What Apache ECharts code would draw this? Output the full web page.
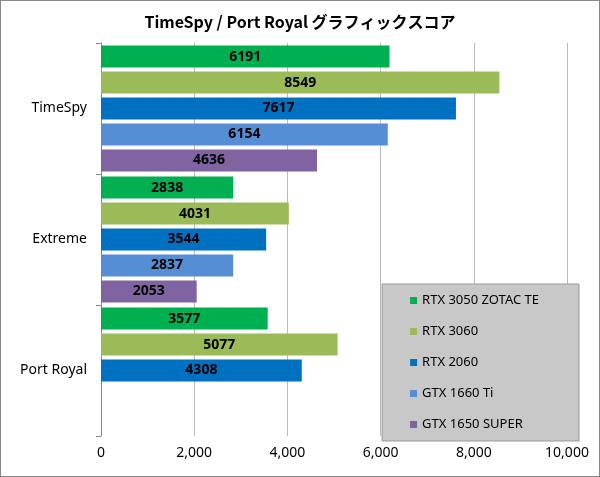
<!DOCTYPE html>
<html><head><meta charset="utf-8">
<script src="https://cdn.jsdelivr.net/npm/echarts@6/dist/echarts.min.js"></script>
<style>html,body{margin:0;padding:0;background:#fff}#c{width:600px;height:477px;box-sizing:border-box;border:1px solid #888}</style>
</head><body><div id="c"></div>
<script>
const categories = ['TimeSpy', 'Extreme', 'Port Royal'];
const seriesNames = ['RTX 3050 ZOTAC TE', 'RTX 3060', 'RTX 2060', 'GTX 1660 Ti', 'GTX 1650 SUPER'];
const rtx3050 = [6191, 2838, 3577];
const rtx3060 = [8549, 4031, 5077];
const rtx2060 = [7617, 3544, 4308];
const gtx1660ti = [6154, 2837, null];
const gtx1650s = [4636, 2053, null];
const values = [rtx3050, rtx3060, rtx2060, gtx1660ti, gtx1650s];
const colors = ['#00B050', '#9BBB59', '#0070C0', '#558ED5', '#8064A2'];
const xTicks = [0, 2000, 4000, 6000, 8000, 10000];

const chart = echarts.init(document.getElementById('c'));
chart.setOption({
  animation: false,
  title: { text: 'TimeSpy / Port Royal グラフィックスコア', left: 'center', top: 8,
    textStyle: { fontSize: 16, fontWeight: 'bold', color: '#000', fontFamily: 'Noto Sans CJK JP' } },
  grid: { left: 100, right: 32, top: 42, bottom: 40 },
  legend: {
    orient: 'vertical', right: 20, top: 283, itemWidth: 7, itemHeight: 7, itemGap: 18,
    icon: 'rect', backgroundColor: '#C8C8C8', borderColor: '#999', borderWidth: 1,
    padding: [10, 40, 10, 28],
    textStyle: { fontSize: 13, color: '#000', fontFamily: 'Noto Sans' },
    data: seriesNames
  },
  xAxis: { type: 'value', min: 0, max: 10000, interval: 2000,
    axisLabel: { fontSize: 14, color: '#000', fontFamily: 'Noto Sans', margin: 10 },
    splitLine: { lineStyle: { color: '#BBB' } }, axisLine: { show: false }, axisTick: { show: false } },
  yAxis: { type: 'category', data: categories, inverse: true,
    axisLabel: { fontSize: 14, color: '#000', fontFamily: 'Noto Sans', margin: 14 },
    axisLine: { lineStyle: { color: '#888' } }, axisTick: { show: true, length: 5, lineStyle: { color: '#888' } } },
  series: seriesNames.map((n, i) => ({
    name: n, type: 'bar', data: values[i], barWidth: 22, barGap: '18%',
    itemStyle: { color: colors[i] },
    label: { show: true, position: 'inside', fontSize: 14, fontWeight: 'bold', color: '#000', fontFamily: 'Noto Sans' }
  }))
});
</script></body></html>
